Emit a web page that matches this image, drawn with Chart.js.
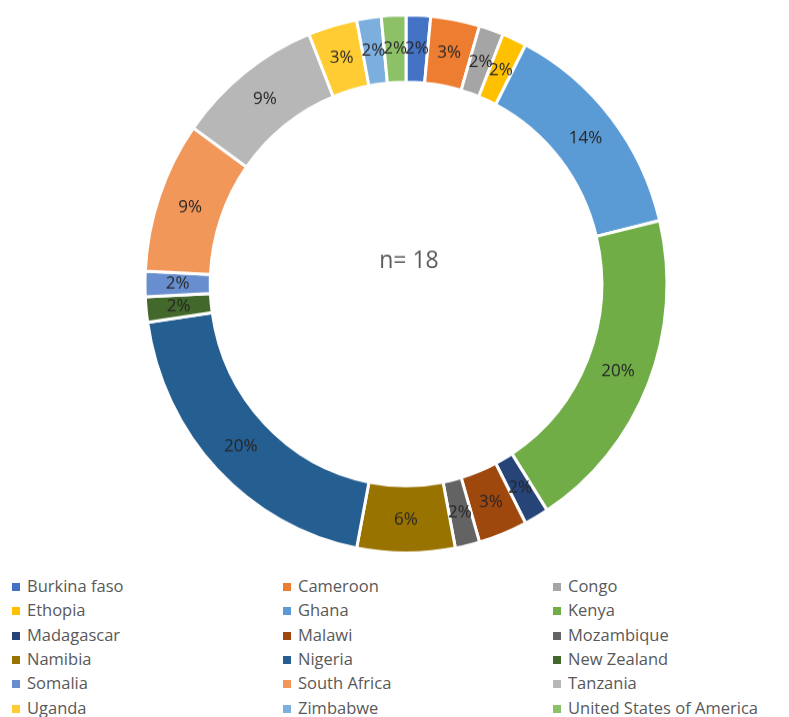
<!DOCTYPE html>
<html>
<head>
<meta charset="utf-8">
<script src="https://cdn.jsdelivr.net/npm/chart.js@4"></script>
<style>
    html, body { margin: 0; padding: 0; background: #fff; }
    #wrap { position: relative; width: 789px; height: 717px; overflow: hidden; }
    #chart { position: absolute; left: 0; top: 0; }
    #legend { position: absolute; left: 0; top: 574px; width: 789px; font-family: 'Open Sans', sans-serif; font-size: 16.5px; color: #595959; }
    .item { position: absolute; height: 24px; line-height: 24px; white-space: nowrap; }
    .box { display: inline-block; width: 8px; height: 8px; margin-right: 7px; vertical-align: 1px; }
</style>
</head>
<body>
<div id="wrap">
    <!-- drawn at 553px tall and shown at 570px: the reference ring is slightly taller than wide -->
    <canvas id="chart" width="789" height="553" style="width:789px;height:570px"></canvas>
    <div id="legend"></div>
</div>
<script>
'use strict';

// Countries, in the order the slices run clockwise from the top
const countries = [
    'Burkina faso', 'Cameroon', 'Congo', 'Ethopia', 'Ghana', 'Kenya',
    'Madagascar', 'Malawi', 'Mozambique', 'Namibia', 'Nigeria', 'New Zealand',
    'Somalia', 'South Africa', 'Tanzania', 'Uganda', 'Zimbabwe', 'United States of America'
];

// Counts per country
const counts = [1, 2, 1, 1, 9, 13, 1, 2, 1, 4, 13, 1, 1, 6, 6, 2, 1, 1];

// Excel office palette
const sliceColors = [
    '#4472C4', '#ED7D31', '#A5A5A5', '#FFC000', '#5B9BD5', '#70AD47',
    '#264478', '#9E480E', '#636363', '#997300', '#255E91', '#43682B',
    '#698ED0', '#F1975A', '#B7B7B7', '#FFCD33', '#7CAFDD', '#8CC168'
];

const centerText = 'n= 18';

const total = counts.reduce((a, b) => a + b, 0);

// Draw the percentage label in the middle of each slice, and the centre text
const sliceLabels = {
    id: 'sliceLabels',
    afterDatasetsDraw(chart) {
        const ctx = chart.ctx;
        const meta = chart.getDatasetMeta(0);
        ctx.save();
        ctx.font = '17px "Open Sans"';
        ctx.fillStyle = '#262626';
        ctx.textAlign = 'center';
        ctx.textBaseline = 'middle';
        meta.data.forEach((arc, i) => {
            const pos = arc.tooltipPosition();
            const pct = Math.round(counts[i] / total * 100) + '%';
            ctx.fillText(pct, pos.x, pos.y);
        });
        // Centre text
        const first = meta.data[0];
        ctx.font = '23px "Open Sans"';
        ctx.fillStyle = '#595959';
        ctx.fillText(centerText, first.x + 3, first.y - 22);
        ctx.restore();
    }
};

new Chart(document.getElementById('chart').getContext('2d'), {
    type: 'doughnut',
    data: {
        labels: countries,
        datasets: [{
            data: counts,
            backgroundColor: sliceColors,
            borderColor: '#ffffff',
            borderWidth: 3
        }]
    },
    options: {
        responsive: false,
        animation: false,
        cutout: '75%',
        layout: {
            padding: { top: 13, bottom: 15, left: 23, right: 0 }
        },
        plugins: {
            legend: { display: false },
            tooltip: { enabled: false }
        }
    },
    plugins: [sliceLabels]
});

// Legend: three columns, filled row by row
const legend = document.getElementById('legend');
const colX = [12, 283, 553];
countries.forEach((name, i) => {
    const item = document.createElement('div');
    item.className = 'item';
    item.style.left = colX[i % 3] + 'px';
    item.style.top = (Math.floor(i / 3) * 24.3) + 'px';
    item.innerHTML = '<span class="box" style="background:' + sliceColors[i] + '"></span>' + name;
    legend.appendChild(item);
});
</script>
</body>
</html>
